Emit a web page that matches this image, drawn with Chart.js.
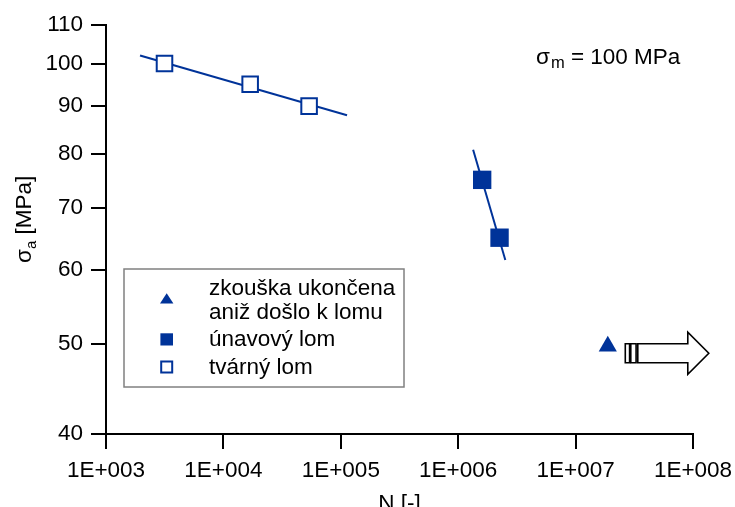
<!DOCTYPE html>
<html>
<head>
<meta charset="utf-8">
<title>Wöhlerova křivka</title>
<script src="https://cdn.jsdelivr.net/npm/chart.js@4/dist/chart.umd.min.js"></script>
<style>
  html, body { margin: 0; padding: 0; background: #ffffff; }
  #wrap { width: 735px; height: 507px; }
</style>
</head>
<body>
<div id="wrap"><canvas id="c" width="735" height="507"></canvas></div>
<script>
// Axis tick values (log-log plot)
const xTicks = [1e3, 1e4, 1e5, 1e6, 1e7, 1e8];
const yTicks = [40, 50, 60, 70, 80, 90, 100, 110];

// Tvárný lom (ductile fracture) – measured points
const tvarnyN = [3150, 16900, 53700];
const tvarnySigma = [100, 95, 90];

// Únavový lom (fatigue fracture) – measured points
const unavovyN = [1.6e6, 2.25e6];
const unavovySigma = [75, 65];

// Zkouška ukončena bez lomu (run-out)
const runoutN = [1.88e7];
const runoutSigma = [49.7];

// Fitted trend lines (end points)
const tvarnyFitN = [1950, 113000];
const tvarnyFitSigma = [102, 88];
const unavovyFitN = [1.34e6, 2.52e6];
const unavovyFitSigma = [80.8, 61.5];

const legendLabels = [
  ['zkouška ukončena', 'aniž došlo k lomu'],
  ['únavový lom'],
  ['tvárný lom']
];

const BLUE = '#003399';
const FONT = "'Liberation Sans', Arial, Helvetica, sans-serif";
const FS = 22.5;

const pts = (xs, ys) => xs.map((x, i) => ({ x: x, y: ys[i] }));

function expLabel(v) {
  const e = Math.round(Math.log10(v));
  return '1E+' + String(e).padStart(3, '0');
}

// Extra drawings: legend box, sigma_m note, y-axis title, run-out arrow
const extras = {
  id: 'extras',
  afterDraw(chart) {
    const ctx = chart.ctx;
    const xs = chart.scales.x, ys = chart.scales.y;
    ctx.save();

    // ---- y-axis title: σa [MPa]
    ctx.save();
    ctx.translate(31, 263);
    ctx.rotate(-Math.PI / 2);
    ctx.fillStyle = '#000';
    ctx.textBaseline = 'alphabetic';
    ctx.textAlign = 'left';
    ctx.font = FS + 'px ' + FONT;
    ctx.fillText('σ', 0, 0);
    let w = ctx.measureText('σ').width;
    ctx.font = '15px ' + FONT;
    ctx.fillText('a', w, 5);
    w += ctx.measureText('a').width;
    ctx.font = FS + 'px ' + FONT;
    ctx.fillText(' [MPa]', w, 0);
    ctx.restore();

    // ---- σm = 100 MPa
    ctx.fillStyle = '#000';
    ctx.textAlign = 'left';
    ctx.textBaseline = 'alphabetic';
    let tx = 536, ty = 63.5;
    ctx.font = FS + 'px ' + FONT;
    ctx.fillText('σ', tx, ty);
    tx += ctx.measureText('σ').width + 1;
    ctx.font = '16.5px ' + FONT;
    ctx.fillText('m', tx, ty + 4.5);
    tx += ctx.measureText('m').width;
    ctx.font = FS + 'px ' + FONT;
    ctx.fillText(' = 100 MPa', tx, ty);

    // ---- legend box
    const ca = chart.chartArea;
    const lx = ca.left + 18, ly = 269, lw = 280, lh = 118;
    ctx.strokeStyle = '#808080';
    ctx.lineWidth = 1.5;
    ctx.strokeRect(lx, ly, lw, lh);

    const mx = lx + 42.7;
    // triangle
    ctx.fillStyle = BLUE;
    ctx.beginPath();
    ctx.moveTo(mx, 293.3);
    ctx.lineTo(mx + 6.7, 303.5);
    ctx.lineTo(mx - 6.7, 303.5);
    ctx.closePath();
    ctx.fill();
    // filled square
    ctx.fillRect(mx - 6.3, 333.3, 12.6, 12.2);
    // open square
    ctx.fillStyle = '#fff';
    ctx.fillRect(mx - 5.5, 361.5, 11, 11);
    ctx.strokeStyle = BLUE;
    ctx.lineWidth = 2;
    ctx.strokeRect(mx - 5.5, 361.5, 11, 11);

    ctx.fillStyle = '#000';
    ctx.font = FS + 'px ' + FONT;
    const textX = lx + 85;
    ctx.fillText(legendLabels[0][0], textX, 295);
    ctx.fillText(legendLabels[0][1], textX, 319);
    ctx.fillText(legendLabels[1][0], textX, 345.5);
    ctx.fillText(legendLabels[2][0], textX, 374);

    // ---- run-out arrow next to the triangle
    const px = xs.getPixelForValue(runoutN[0]);
    const py = ys.getPixelForValue(runoutSigma[0]);
    const x0 = px + 17.5, yc = py + 7;
    ctx.strokeStyle = '#000';
    ctx.lineWidth = 1.6;
    ctx.fillStyle = '#fff';
    ctx.beginPath();
    ctx.rect(x0, yc - 9.5, 4.3, 19);
    ctx.fill(); ctx.stroke();
    ctx.beginPath();
    ctx.rect(x0 + 5.5, yc - 9.5, 5.3, 19);
    ctx.fill(); ctx.stroke();
    ctx.beginPath();
    ctx.moveTo(x0 + 12.5, yc - 9.5);
    ctx.lineTo(x0 + 62.5, yc - 9.5);
    ctx.lineTo(x0 + 62.5, yc - 21);
    ctx.lineTo(x0 + 83.5, yc);
    ctx.lineTo(x0 + 62.5, yc + 21);
    ctx.lineTo(x0 + 62.5, yc + 9.5);
    ctx.lineTo(x0 + 12.5, yc + 9.5);
    ctx.closePath();
    ctx.fill(); ctx.stroke();

    ctx.restore();
  }
};

const axisCommon = {
  type: 'logarithmic',
  border: { display: true, color: '#000', width: 2 },
  grid: {
    display: true,
    drawOnChartArea: false,
    drawTicks: true,
    tickLength: 15,
    color: '#000',
    lineWidth: 2
  }
};

new Chart(document.getElementById('c'), {
  type: 'scatter',
  data: {
    datasets: [
      {
        label: 'tvárný lom',
        data: pts(tvarnyN, tvarnySigma),
        pointStyle: 'rect',
        pointRadius: 11,
        backgroundColor: '#ffffff',
        borderColor: BLUE,
        borderWidth: 2
      },
      {
        label: 'únavový lom',
        data: pts(unavovyN, unavovySigma),
        pointStyle: 'rect',
        pointRadius: 13,
        backgroundColor: BLUE,
        borderColor: BLUE,
        borderWidth: 0
      },
      {
        label: 'zkouška ukončena aniž došlo k lomu',
        data: pts(runoutN, runoutSigma),
        pointStyle: 'triangle',
        pointRadius: 10.5,
        backgroundColor: BLUE,
        borderColor: BLUE,
        borderWidth: 0
      },
      {
        label: 'trend tvárný lom',
        data: pts(tvarnyFitN, tvarnyFitSigma),
        showLine: true,
        pointRadius: 0,
        borderColor: BLUE,
        borderWidth: 2
      },
      {
        label: 'trend únavový lom',
        data: pts(unavovyFitN, unavovyFitSigma),
        showLine: true,
        pointRadius: 0,
        borderColor: BLUE,
        borderWidth: 2
      }
    ]
  },
  options: {
    responsive: false,
    devicePixelRatio: 1,
    animation: false,
    events: [],
    layout: { padding: { left: 0, top: 25, right: 42, bottom: 0 } },
    plugins: {
      legend: { display: false },
      tooltip: { enabled: false }
    },
    scales: {
      x: Object.assign({}, axisCommon, {
        position: 'bottom',
        min: xTicks[0],
        max: xTicks[xTicks.length - 1],
        afterBuildTicks(scale) { scale.ticks = xTicks.map(v => ({ value: v })); },
        afterFit(scale) {
          scale.height = 73;
          scale.paddingLeft = 0;
          scale.paddingRight = 0;
        },
        ticks: {
          autoSkip: false,
          maxRotation: 0,
          padding: 8,
          color: '#000',
          font: { family: FONT, size: FS },
          callback: (v) => expLabel(v)
        },
        title: {
          display: true,
          text: 'N [-]',
          color: '#000',
          font: { family: FONT, size: FS, lineHeight: 1 },
          padding: { top: 0, bottom: -8 }
        }
      }),
      y: Object.assign({}, axisCommon, {
        position: 'left',
        min: yTicks[0],
        max: yTicks[yTicks.length - 1],
        afterBuildTicks(scale) { scale.ticks = yTicks.map(v => ({ value: v })); },
        afterFit(scale) {
          scale.width = 106;
          scale.paddingTop = 0;
          scale.paddingBottom = 0;
        },
        ticks: {
          autoSkip: false,
          padding: 8,
          color: '#000',
          font: { family: FONT, size: FS },
          callback: (v) => String(v)
        }
      })
    }
  },
  plugins: [extras]
});
</script>
</body>
</html>
